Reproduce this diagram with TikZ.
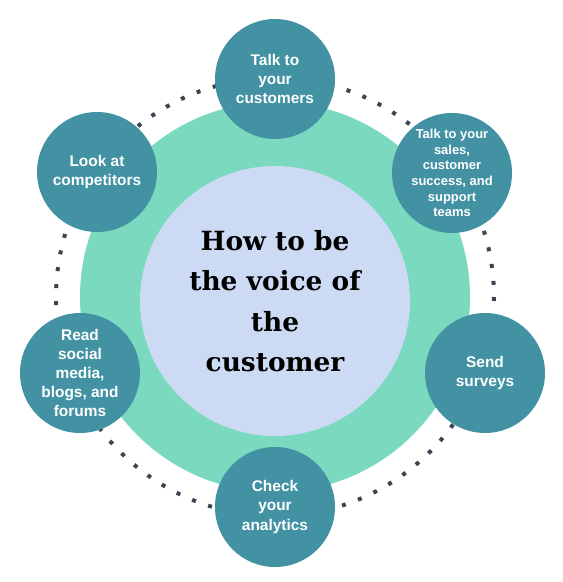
\documentclass[tikz,border=0pt]{standalone}
\usepackage{fontspec}
\newfontfamily\labfont{Liberation Sans}
\newfontfamily\titlefont{DejaVu Serif}
\definecolor{teal1}{RGB}{66,146,164}
\definecolor{green1}{RGB}{122,217,191}
\definecolor{lav1}{RGB}{204,218,243}
\definecolor{dot1}{RGB}{59,68,83}
\tikzset{
  topic/.style={circle, fill=teal1, minimum size=120bp, inner sep=0pt, text=white, align=center,
    font=\labfont\bfseries\fontsize{15.5}{19.3}\selectfont},
  smalltopic/.style={topic, font=\labfont\bfseries\fontsize{13}{15.7}\selectfont},
  ringdots/.style={draw=dot1, line width=4bp, dash pattern=on 4bp off 13bp},
}
\begin{document}
\begin{tikzpicture}[x=1bp,y=-1bp]
\useasboundingbox (0,0) rectangle (563,582);
\coordinate (c) at (275,297);
\draw[ringdots] (c) circle (219);
\node[circle, fill=green1, minimum size=390bp, inner sep=0pt] (ring) at (c) {};
\node[circle, fill=lav1, minimum size=270bp, inner sep=0pt, align=center,
  font=\titlefont\bfseries\fontsize{26.5}{40.5}\selectfont] (title) at (275,301)
  {How to be\\the voice of\\the\\customer};
\node[topic] (t1) at (275,79) {Talk to\\your\\customers};
\node[smalltopic] (t2) at (452,173) {Talk to your\\sales,\\customer\\success, and\\support\\teams};
\node[topic] (t3) at (485,373) {Send\\surveys};
\node[topic] (t4) at (275,507) {Check\\your\\analytics};
\node[topic] (t5) at (80,373) {Read\\social\\media,\\blogs, and\\forums};
\node[topic] (t6) at (97,172) {Look at\\competitors};
\end{tikzpicture}
\end{document}
